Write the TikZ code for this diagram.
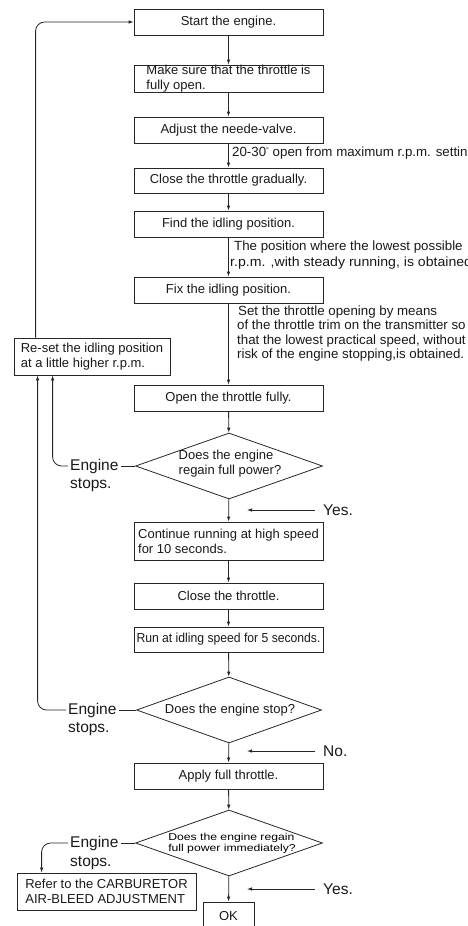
\documentclass[tikz,border=0pt]{standalone}
\usepackage{fontspec}
\setmainfont{Liberation Sans}
\usetikzlibrary{arrows.meta,shapes.geometric}
\begin{document}
\begin{tikzpicture}[x=1pt,y=-1pt,
  ink/.style={draw=black!85, line width=0.8pt},
  box/.style={ink, rectangle, minimum width=189pt, inner sep=0pt, align=left, font=\fontsize{13}{15}\selectfont, text=black!90},
  dia/.style={ink, diamond, minimum width=187pt, minimum height=66pt, inner sep=0pt},
  dtext/.style={font=\fontsize{13}{15}\selectfont, align=left, inner sep=0pt, text=black!90},
  big/.style={font=\fontsize{15.5}{18}\selectfont, inner sep=2pt, anchor=west, text=black!90},
  note/.style={font=\fontsize{13.3}{16}\selectfont, align=left, anchor=west, inner sep=0pt, text=black!90},
  arr/.style={ink, -{Latex[length=5pt,width=3.5pt]}},
  ln/.style={ink}
]
\useasboundingbox (0,0) rectangle (467,926);
\clip (0,0) rectangle (467,926);

% main column
\node[box, minimum height=26pt] (b1) at (228.5,22) {Start the engine.};
\node[box, minimum height=27pt] (b2) at (228.5,78.5) {Make sure that the throttle is\\fully open.};
\node[box, minimum height=26pt] (b3) at (228.5,130) {Adjust the neede-valve.};
\node[box, minimum height=25pt] (b4) at (228.5,180.5) {Close the throttle gradually.};
\node[box, minimum height=26pt] (b5) at (228.5,224) {Find the idling position.};
\node[box, minimum height=26pt] (b6) at (228.5,290) {Fix the idling position.};
\node[box, minimum height=26pt] (b7) at (228.5,398) {Open the throttle fully.};
\node[dia] (d1) at (229,466) {};
\node[dtext] (t1) at (230,464) {Does the engine\\regain full power?};
\node[box, minimum height=38pt] (b8) at (228.5,541) {Continue running at high speed\\for 10 seconds.};
\node[box, minimum height=26pt] (b9) at (228.5,596) {Close the throttle.};
\node[box, minimum height=25pt] (b10) at (228.5,639.5) {\scalebox{0.936}[1]{Run at idling speed for 5 seconds.}};
\node[dia, minimum width=185pt] (d2) at (229,710) {};
\node[dtext] (t2) at (230,710) {Does the engine stop?};
\node[box, minimum height=26pt] (b11) at (228.5,776) {Apply full throttle.};
\node[dia] (d3) at (229,843) {};
\node[inner sep=0pt] (t3) at (232,843.5) {\scalebox{1.22}[1]{\fontsize{10}{11.7}\selectfont\begin{tabular}{@{}l@{}}Does the engine regain\\full power immediately?\end{tabular}}};
\node[box, minimum width=51pt, minimum height=28pt, align=center] (ok) at (228.5,916) {OK};

% side boxes
\node[box, minimum width=156pt, minimum height=37pt] (reset) at (92,356.5) {Re-set the idling position\\at a little higher r.p.m.};
\node[box, minimum width=179pt, minimum height=37pt] (refer) at (106.5,891.5) {Refer to the CARBURETOR\\AIR-BLEED ADJUSTMENT};

% main arrows
\draw[arr] (b1) -- (b2);
\draw[arr] (b2) -- (b3);
\draw[arr] (b3) -- (b4);
\draw[arr] (b4) -- (b5);
\draw[arr] (b5) -- (b6);
\draw[arr] (b6) -- (b7);
\draw[arr] (b7) -- (d1);
\draw[arr] (d1) -- (b8);
\draw[arr] (b8) -- (b9);
\draw[arr] (b9) -- (b10);
\draw[arr] (b10) -- (d2);
\draw[arr] (d2) -- (b11);
\draw[arr] (b11) -- (d3);
\draw[arr] (d3) -- (ok);

% annotations
\node[note] (a1) at (232,153) {20-30\raisebox{4pt}{\fontsize{7}{7}\selectfont°} open from maximum r.p.m. setting};
\node[note] (a2) at (230,255) {\hspace{4pt}The position where the lowest possible\\\scalebox{1.06}[1]{r.p.m. ,with steady running, is obtained.}};
\node[note, font=\fontsize{13.3}{14.3}\selectfont] (a3) at (237,333.5) {\hspace{1pt}Set the throttle opening by means\\of the throttle trim on the transmitter so\\that the lowest practical speed, without\\risk of the engine stopping,is obtained.};

% Engine stops labels
\node[big] (e1) at (68,466) {Engine};
\node[big] (s1) at (68,485) {stops.};
\node[big] (e2) at (66,710) {Engine};
\node[big] (s2) at (66,729) {stops.};
\node[big] (e3) at (68,843) {Engine};
\node[big] (s3) at (68,863) {stops.};

\draw[ln] (e1.east) -- (d1.west);
\draw[ln] (e2.east) -- (d2.west);
\draw[ln] (e3.east) -- (d3.west);

\draw[arr, rounded corners=9pt] (e1.west) -| ([xshift=39pt]reset.south west);
\draw[arr, rounded corners=9pt] (e2.west) -| ([xshift=24pt]reset.south west);
\draw[arr, rounded corners=9pt] (e3.west) -| ([xshift=25pt]refer.north west);
\draw[arr, rounded corners=9pt] ([xshift=22pt]reset.north west) |- (b1.west);

% Yes / No
\node[big] (y1) at (321,510) {Yes.};
\node[big] (n1) at (321,751) {No.};
\node[big] (y2) at (321,889) {Yes.};
\coordinate (cy1) at (247,510);
\coordinate (cn1) at (247,751);
\coordinate (cy2) at (247,889);
\draw[arr] ([xshift=-6pt]y1.west) -- (cy1);
\draw[arr] ([xshift=-6pt]n1.west) -- (cn1);
\draw[arr] ([xshift=-6pt]y2.west) -- (cy2);
\end{tikzpicture}
\end{document}
